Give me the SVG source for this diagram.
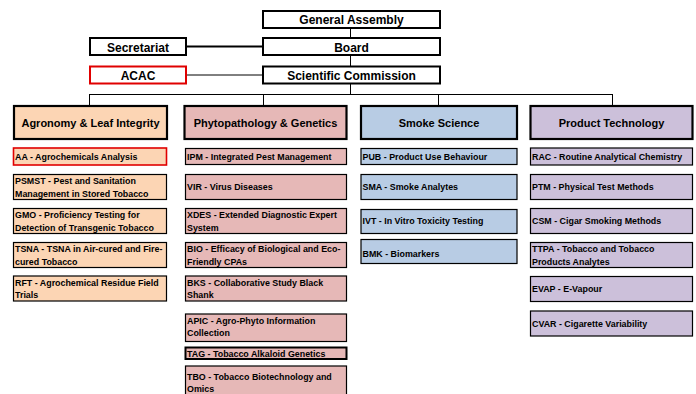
<svg xmlns="http://www.w3.org/2000/svg" width="696" height="394" viewBox="0 0 696 394">
<style>
text{font-family:"Liberation Sans",Arial,sans-serif;font-weight:bold;fill:#000}
.top rect{fill:#fff;stroke:#000;stroke-width:2}
.top text{font-size:12px;text-anchor:middle}
.hd rect{stroke:#000;stroke-width:2.2}
.hd text{font-size:11px;text-anchor:middle}
.sb rect{stroke:#000;stroke-width:1.2}
.sb text{font-size:8.9px}
.c1 rect{fill:#FCD5B4}.c2 rect{fill:#E6B8B7}.c3 rect{fill:#B8CCE4}.c4 rect{fill:#CCC0DA}
.red{stroke:#E00000 !important;stroke-width:1.6 !important}
.conn line{stroke:#000;stroke-width:1}
</style>
<g id="connectors" class="conn">
<line x1="350.5" y1="28" x2="350.5" y2="38"/>
<line x1="350.5" y1="55" x2="350.5" y2="66"/>
<line x1="186" y1="46.5" x2="263" y2="46.5" style="stroke-width:2"/>
<line x1="186" y1="75" x2="263" y2="75"/>
<line x1="350.5" y1="83" x2="350.5" y2="94"/>
<line x1="89.5" y1="94.5" x2="612.5" y2="94.5"/>
<line x1="89.5" y1="94" x2="89.5" y2="106"/>
<line x1="263.5" y1="94" x2="263.5" y2="106"/>
<line x1="438.5" y1="94" x2="438.5" y2="106"/>
<line x1="612.5" y1="94" x2="612.5" y2="106"/>
</g>
<g class="top">
<g id="general-assembly"><rect x="263" y="11" width="177" height="17"/><text x="351.5" y="24">General Assembly</text></g>
<g id="board"><rect x="263" y="38" width="177" height="17"/><text x="351.5" y="51.5">Board</text></g>
<g id="scientific-commission"><rect x="263" y="66.5" width="177" height="17"/><text x="351.5" y="79.5">Scientific Commission</text></g>
<g id="secretariat"><rect x="90" y="38" width="96" height="17"/><text x="138" y="51.5">Secretariat</text></g>
<g id="acac"><rect x="90" y="66.5" width="96" height="17" style="stroke:#E00000"/><text x="138" y="79.5">ACAC</text></g>
</g>
<g class="hd">
<g id="agronomy" class="c1"><rect x="14" y="106" width="153" height="33"/><text x="90.5" y="127">Agronomy &amp; Leaf Integrity</text></g>
<g id="phyto" class="c2"><rect x="184.5" y="106" width="162" height="33"/><text x="265.5" y="127">Phytopathology &amp; Genetics</text></g>
<g id="smoke" class="c3"><rect x="361" y="106" width="156" height="33"/><text x="439" y="127">Smoke Science</text></g>
<g id="product" class="c4"><rect x="530.5" y="106" width="162" height="33"/><text x="611.5" y="127">Product Technology</text></g>
</g>
<g class="sb c1">
<g id="aa"><rect class="red" x="13.5" y="148" width="153" height="17"/><text x="15" y="160">AA - Agrochemicals Analysis</text></g>
<g id="psmst"><rect x="13.5" y="174.5" width="153" height="25"/><text x="15" y="184">PSMST - Pest and Sanitation</text><text x="15" y="196.5">Management in Stored Tobacco</text></g>
<g id="gmo"><rect x="13.5" y="208.5" width="153" height="25"/><text x="15" y="218">GMO - Proficiency Testing for</text><text x="15" y="230.5">Detection of Transgenic Tobacco</text></g>
<g id="tsna"><rect x="13.5" y="242.5" width="153" height="25"/><text x="15" y="252">TSNA - TSNA in Air-cured and Fire-</text><text x="15" y="264.5">cured Tobacco</text></g>
<g id="rft"><rect x="13.5" y="276" width="153" height="25"/><text x="15" y="285.5">RFT - Agrochemical Residue Field</text><text x="15" y="298">Trials</text></g>
</g>
<g class="sb c2">
<g id="ipm"><rect x="185.5" y="148.5" width="161" height="16"/><text x="187" y="160">IPM - Integrated Pest Management</text></g>
<g id="vir"><rect x="185.5" y="174.5" width="161" height="25"/><text x="187" y="190">VIR - Virus Diseases</text></g>
<g id="xdes"><rect x="185.5" y="208.5" width="161" height="25"/><text x="187" y="218">XDES - Extended Diagnostic Expert</text><text x="187" y="230.5">System</text></g>
<g id="bio"><rect x="185.5" y="242.5" width="161" height="25"/><text x="187" y="252">BIO - Efficacy of Biological and Eco-</text><text x="187" y="264.5">Friendly CPAs</text></g>
<g id="bks"><rect x="185.5" y="276" width="161" height="25"/><text x="187" y="285.5">BKS - Collaborative Study Black</text><text x="187" y="298">Shank</text></g>
<g id="apic"><rect x="185.5" y="314" width="161" height="27.5"/><text x="187" y="323.5">APIC - Agro-Phyto Information</text><text x="187" y="336">Collection</text></g>
<g id="tag"><rect x="185.5" y="347.5" width="161" height="11.5" style="stroke-width:2"/><text x="187" y="356.8">TAG - Tobacco Alkaloid Genetics</text></g>
<g id="tbo"><rect x="185.5" y="366" width="161" height="30"/><text x="187" y="379.5">TBO - Tobacco Biotechnology and</text><text x="187" y="391.5">Omics</text></g>
</g>
<g class="sb c3">
<g id="pub"><rect x="361" y="148.5" width="156" height="16"/><text x="362.5" y="160">PUB - Product Use Behaviour</text></g>
<g id="sma"><rect x="361" y="174.5" width="156" height="25"/><text x="362.5" y="190">SMA - Smoke Analytes</text></g>
<g id="ivt"><rect x="361" y="209.5" width="156" height="24"/><text x="362.5" y="224">IVT - In Vitro Toxicity Testing</text></g>
<g id="bmk"><rect x="361" y="239.5" width="156" height="24"/><text x="362.5" y="257">BMK - Biomarkers</text></g>
</g>
<g class="sb c4">
<g id="rac"><rect x="530.5" y="148" width="162" height="17"/><text x="532" y="160">RAC - Routine Analytical Chemistry</text></g>
<g id="ptm"><rect x="530.5" y="174.5" width="162" height="25"/><text x="532" y="190">PTM - Physical Test Methods</text></g>
<g id="csm"><rect x="530.5" y="208.5" width="162" height="25"/><text x="532" y="224">CSM - Cigar Smoking Methods</text></g>
<g id="ttpa"><rect x="530.5" y="242.5" width="162" height="25"/><text x="532" y="252">TTPA - Tobacco and Tobacco</text><text x="532" y="264.5">Products Analytes</text></g>
<g id="evap"><rect x="530.5" y="276.5" width="162" height="25"/><text x="532" y="292">EVAP - E-Vapour</text></g>
<g id="cvar"><rect x="530.5" y="311" width="162" height="25"/><text x="532" y="326.5">CVAR - Cigarette Variability</text></g>
</g>
</svg>
